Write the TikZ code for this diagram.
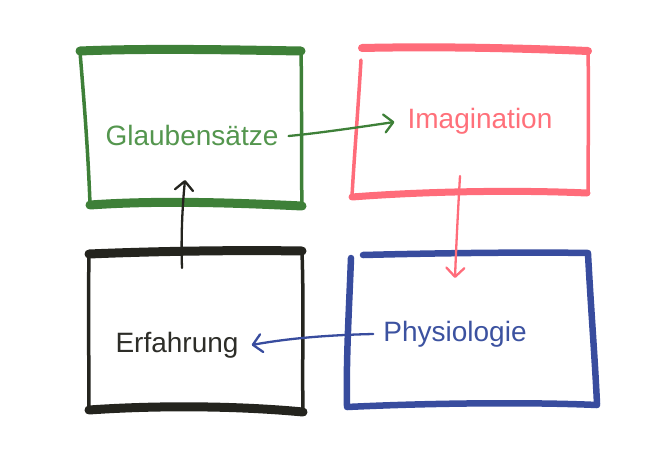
\documentclass[tikz,border=0pt]{standalone}
\usepackage{fontspec}
\setmainfont{Liberation Sans}
\usetikzlibrary{arrows.meta}
\definecolor{gstroke}{RGB}{62,128,56}
\definecolor{gtext}{RGB}{84,150,78}
\definecolor{rstroke}{RGB}{255,108,122}
\definecolor{rtext}{RGB}{255,112,122}
\definecolor{bstroke}{RGB}{56,76,158}
\definecolor{btext}{RGB}{60,82,160}
\definecolor{kstroke}{RGB}{36,36,30}
\definecolor{ktext}{RGB}{45,45,40}
\begin{document}
\begin{tikzpicture}[x=1pt,y=-1pt,
  lbl/.style={anchor=base,inner sep=0pt,font=\fontsize{28}{32}\selectfont},
  thick edge/.style={line width=9pt,line cap=round},
  thin edge/.style={line width=3.5pt,line cap=round},
  mid edge/.style={line width=6.5pt,line cap=round},
  arr/.style={line width=2.3pt,line cap=round,line join=round,
    -{Straight Barb[length=9pt,width=18pt,line cap=round,line join=round]}}]
\useasboundingbox (0,0) rectangle (660,466);
% green box
\draw[gstroke,thick edge] (80,51) .. controls (150,48) and (240,50) .. (301,51);
\draw[gstroke,thick edge] (90,205) .. controls (160,200) and (240,203) .. (302,206);
\draw[gstroke,thin edge] (80,52) .. controls (84,100) and (88,150) .. (90,204);
\draw[gstroke,thin edge] (301,51) .. controls (302,100) and (301,160) .. (302,205);
% red box
\draw[rstroke,line width=8pt,line cap=round] (362,48) .. controls (450,46) and (540,49) .. (588,51);
\draw[rstroke,line width=7pt,line cap=round] (352,197) .. controls (430,191) and (520,190) .. (587,193);
\draw[rstroke,thin edge] (361,60) .. controls (358,110) and (354,160) .. (352,196);
\draw[rstroke,thin edge] (588,52) .. controls (589,100) and (588,150) .. (588,192);
% blue box
\draw[bstroke,mid edge] (363,255) .. controls (440,253) and (530,252) .. (588,253);
\draw[bstroke,mid edge] (351,258) .. controls (349,310) and (346,360) .. (347,406);
\draw[bstroke,mid edge] (347,407) .. controls (430,403) and (530,402) .. (597,405);
\draw[bstroke,mid edge] (588,254) .. controls (591,310) and (595,360) .. (597,404);
% black box
\draw[kstroke,thick edge] (89,254) .. controls (160,251) and (240,250) .. (302,251);
\draw[kstroke,thick edge] (89,410) .. controls (160,405) and (240,406) .. (303,412);
\draw[kstroke,thin edge] (89,255) .. controls (88,310) and (89,360) .. (89,410);
\draw[kstroke,thin edge] (302,252) .. controls (304,310) and (302,360) .. (303,411);
% labels
\node[lbl,text=gtext] (glaub) at (192,145) {Glaubensätze};
\node[lbl,text=rtext] (imag) at (480,128) {Imagination};
\node[lbl,text=btext] (phys) at (455,341) {Physiologie};
\node[lbl,text=ktext] (erf) at (177,352) {Erfahrung};
% connector ends
\coordinate (rs) at (460,176);
\coordinate (re) at (455,278);
\coordinate (ks) at (182,268);
\coordinate (ke) at (185,180);
% connectors
\draw[arr,gstroke] ([xshift=10pt,yshift=9pt]glaub.base east) .. controls (320,133) and (360,127) .. ([xshift=-13pt,yshift=6pt]imag.base west);
\draw[arr,rstroke] (rs) .. controls (458,210) and (456,250) .. (re);
\draw[arr,bstroke] ([xshift=-10pt,yshift=7pt]phys.base west) .. controls (330,335) and (290,338) .. ([xshift=13pt,yshift=7pt]erf.base east);
\draw[arr,kstroke] (ks) .. controls (181,240) and (182,210) .. (ke);
\end{tikzpicture}
\end{document}
